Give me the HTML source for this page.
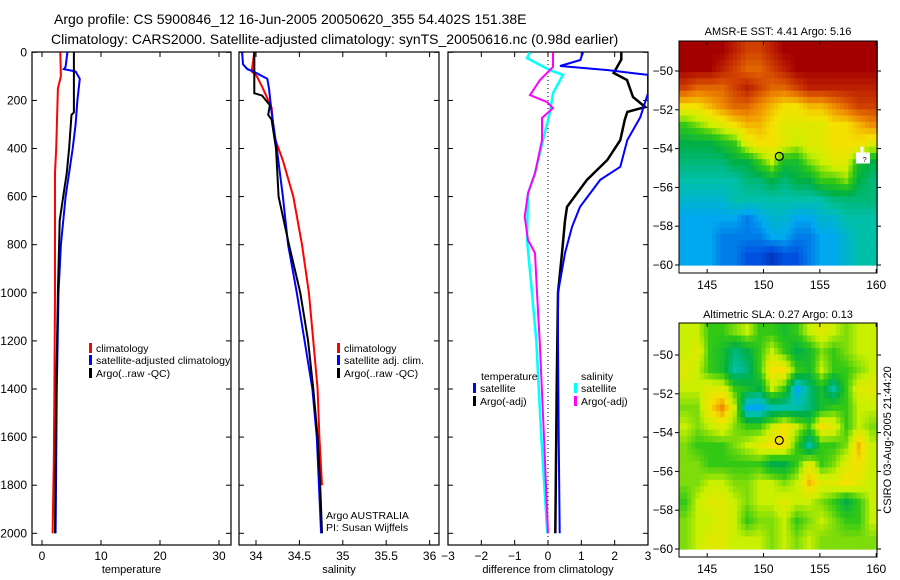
<!DOCTYPE html>
<html><head><meta charset="utf-8"><style>
html,body{margin:0;padding:0;background:#fff;}
svg{display:block;font-family:"Liberation Sans",sans-serif;}
text{fill:#000;}
</style></head><body>
<svg id="fig" width="900" height="580" viewBox="0 0 900 580" xmlns="http://www.w3.org/2000/svg">
<text x="54" y="24" font-size="14">Argo profile: CS 5900846_12 16-Jun-2005 20050620_355 54.402S 151.38E</text>
<text x="51" y="44" font-size="14">Climatology: CARS2000. Satellite-adjusted climatology: synTS_20050616.nc (0.98d earlier)</text>
<g id="layer"></g>
</svg>
<script>
// ---------- profile data ----------
const tempClimDepth=[0,100,150,400,500,1000,1400,1700,2000];
const tempClimVal=[3.1,3.2,2.7,2.4,2.2,2.2,2.1,2.0,1.8];
const tempSatDepth=[0,60,70,80,110,200,300,400,600,800,1000,1400,2000];
const tempSatVal=[4.3,4.0,3.7,5.7,6.4,6.0,5.7,5.2,4.0,3.2,2.8,2.5,2.3];
const tempArgoDepth=[0,180,250,260,400,500,600,700,1000,1400,2000];
const tempArgoVal=[5.4,5.4,5.4,5.0,4.6,4.2,3.6,3.0,2.7,2.4,2.2];

const salClimDepth=[0,80,100,150,230,350,450,600,800,1000,1200,1400,1600,1800];
const salClimVal=[33.98,33.95,34.01,34.08,34.18,34.21,34.31,34.43,34.53,34.61,34.66,34.71,34.73,34.76];
const salSatDepth=[0,50,70,80,110,150,250,400,600,800,1000,1200,1400,1600,2000];
const salSatVal=[33.84,33.85,33.9,33.97,34.13,34.15,34.18,34.24,34.31,34.37,34.47,34.56,34.65,34.70,34.75];
const salArgoDepth=[0,170,180,220,260,280,400,600,800,1000,1200,1400,1600,1800,2000];
const salArgoVal=[33.98,33.98,34.07,34.16,34.14,34.18,34.23,34.26,34.38,34.51,34.60,34.66,34.71,34.74,34.76];

const dTSatDepth=[0,32,57,74,94,170,270,365,476,530,643,726,835,1000,1200,1600,2000];
const dTSatVal=[1.05,0.97,0.36,1.8,3.0,3.0,2.77,2.38,2.17,1.57,0.96,0.72,0.51,0.3,0.3,0.32,0.35];
const dTArgoDepth=[0,30,86,115,186,228,248,282,365,448,530,643,700,835,1000,1400,2000];
const dTArgoVal=[2.2,2.2,1.97,2.37,2.55,2.92,2.38,2.3,2.17,1.78,1.17,0.57,0.51,0.42,0.3,0.26,0.22];
const dSSatDepth=[0,24,74,94,170,248,365,503,586,780,1000,1200,1600,2000];
const dSSatVal=[-0.54,-0.63,0.06,0.45,0.15,0.06,-0.15,-0.39,-0.6,-0.63,-0.48,-0.35,-0.2,-0.02];
const dSArgoDepth=[0,61,115,178,207,232,273,365,503,586,684,780,835,1000,1200,1600,2000];
const dSArgoVal=[0.15,0.15,-0.24,-0.54,-0.03,0.15,-0.18,-0.18,-0.39,-0.6,-0.7,-0.6,-0.39,-0.33,-0.25,-0.12,0.0];

const depthTicks=[0,200,400,600,800,1000,1200,1400,1600,1800,2000];
const tempTicks=[0,10,20,30];
const salTicks=[34,34.5,35,35.5,36];
const salTickLabels=["34","34.5","35","35.5","36"];
const diffTicks=[-3,-2,-1,0,1,2,3];

// ---------- map data (rows top->bottom, lat -49..-60; cols lon 143..160) ----------
const sstGrid=[
[10,10,10,10,9.5,9,9,9.5,10,10,10,10,10,10,10,10],
[10,10,10,9.5,9,8.5,8.5,9,9.5,10,10,10,10,10,10,10],
[9,8.5,8.5,8.5,9,9.5,9,8.5,8.5,9,9.5,9.5,9.5,9.5,9.5,9.5],
[7,7,7.5,8,8.5,8.5,8,7.5,7,7,7.5,7.5,8,8.5,9,9],
[5,5.5,6,6.5,7,7.5,7.5,7,6.5,6.5,6.5,6.5,7,7,7.5,8],
[4,4,4,4.5,5,6.5,7,7,6.5,6,6.5,6.5,7,7,7,6.5],
[3.5,3.5,3.5,3.5,4,4,5,6,4.5,4.5,5.5,6,6.5,6.5,4.5,4],
[3,3,3,3,3,3.5,3.5,4,3.5,4,4,5,5,5.5,4,3.5],
[2.5,2.5,2.5,2.5,3,3,3,3,3,3,3,3,3.5,3.5,3.5,3.5],
[2,2,2,2,2,1.5,2,2.5,2.5,2,2,2.5,2.5,3,3,3],
[2,2,2,1.5,1.5,1.5,1.5,2,2,1.5,1.5,2,2,2.5,3,3],
[2,2,2,1.5,1.5,1,1,0.5,1,1,1.5,2,2,2.5,3,3]];
const slaGrid=[
[6,6,5,5,5.5,6,5,5,4.5,5,6,6.5,6,5.5,6,6],
[6,6.5,5,4.5,3.5,4,5,6,5,4,4.5,5.5,5,5.5,6,6],
[6.5,6,5,4.5,3,3.5,5,7,7,5,4.5,6,5,5,5.5,6],
[6,6,6.5,6.5,5,4.5,4,6,5,2,3.5,4.5,3,5,6.5,6.5],
[5.5,5.5,7,8,6,2,2,3,3,3,3.5,4.5,5,5,6,6],
[6,5.5,6,6.5,5.5,5,5,6,7,6,5,7,6.5,5,6,5.5],
[5.5,5,5,5,5.5,6,6.5,7,7,5,3,5,5,5.5,7.5,6],
[5.5,5.5,5,5,5,5,5,4,4,5,6.5,5,5.5,6.5,7,6],
[5.5,5.5,6,6,5.5,5.5,6,6,5.5,6,7.5,6.5,6.5,7,6.5,6],
[5,6,6.5,6.5,6,5.5,6,6,6.5,6,6,5.5,5,4,5,6],
[5.5,6,6,6.5,6,5,5.5,5.5,6,5,5.5,6,5.5,5,5,6],
[5.5,6,6.5,6.5,6,6,6,5.5,6,5.5,6,5.5,5.5,5.5,5.5,5.5]];
const lonTicks=[145,150,155,160];
const latTicks=[-50,-52,-54,-56,-58,-60];
const floatLon=151.4, floatLat=-54.4;

// ---------- helpers ----------
const NS="http://www.w3.org/2000/svg";
const layer=document.getElementById('layer');
function mk(tag,attrs,parent){const e=document.createElementNS(NS,tag);for(const k in attrs)e.setAttribute(k,attrs[k]);(parent||layer).appendChild(e);return e;}
function txt(x,y,s,size,anchor,parent){const t=mk('text',{x:x,y:y,'font-size':size||11,'text-anchor':anchor||'start'},parent);t.textContent=s;return t;}

const Y0=52.3, YK=0.2405;
function yD(d){return Y0+d*YK;}
const P={top:52,bottom:545};
function xT(v){return 42+5.9*v;}
function xS(v){return 256+86.8*(v-34);}
function xDf(v){return 548+33.33*v;}

function drawPanel(name,left,right,xs,ticks,labels,showY,xlabel){
  const g=mk('g',{});
  
  
  const r=mk('rect',{x:left,y:P.top,width:right-left,height:P.bottom-P.top,fill:'none',stroke:'#000','stroke-width':1.2},g);
  
  
  ticks.forEach((t,i)=>{const x=xs(t);
    mk('line',{x1:x,y1:P.bottom,x2:x,y2:P.bottom-5,stroke:'#000'},g);
    mk('line',{x1:x,y1:P.top,x2:x,y2:P.top+5,stroke:'#000'},g);
    const tl=txt(x,560,labels[i],12,'middle',g);
    
    
  });
  depthTicks.forEach(d=>{const y=yD(d);
    mk('line',{x1:left,y1:y,x2:left+5,y2:y,stroke:'#000'},g);
    mk('line',{x1:right,y1:y,x2:right-5,y2:y,stroke:'#000'},g);
    if(showY){const tl=txt(left-5,y+4,String(d),12,'end',g);
      
      }
  });
  const xl=txt((left+right)/2,573,xlabel,11,'middle',g);
  
  
  return g;
}
function line(g,depths,vals,xs,color,name,w){
  const pts=depths.map((d,i)=>xs(vals[i]).toFixed(1)+','+yD(d).toFixed(1)).join(' ');
  const p=mk('polyline',{points:pts,fill:'none',stroke:color,'stroke-width':w||2},g);
  
  
}
function legend(g,x,y,color,label,name){
  if(color){const b=mk('rect',{x:x,y:y-9,width:3,height:10,fill:color},g);
    
    }
  const t=txt(x+7,y,label,10.5,'start',g);
  
  
}

// panel 1
const g1=drawPanel('temperature-panel',32,231,xT,tempTicks,tempTicks.map(String),true,'temperature');
line(g1,tempClimDepth,tempClimVal,xT,'#ff0000','temp-climatology-line');
line(g1,tempSatDepth,tempSatVal,xT,'#0000ff','temp-satellite-line');
line(g1,tempArgoDepth,tempArgoVal,xT,'#000','temp-argo-line');
legend(g1,89,352,'#ff0000','climatology','legend-climatology');
legend(g1,89,364,'#0000ff','satellite-adjusted climatology','legend-satellite-adjusted');
legend(g1,89,377,'#000','Argo(..raw -QC)','legend-argo');

// panel 2
const g2=drawPanel('salinity-panel',239,439,xS,salTicks,salTickLabels,false,'salinity');
line(g2,salClimDepth,salClimVal,xS,'#ff0000','sal-climatology-line');
line(g2,salSatDepth,salSatVal,xS,'#0000ff','sal-satellite-line');
line(g2,salArgoDepth,salArgoVal,xS,'#000','sal-argo-line');
legend(g2,337,352,'#ff0000','climatology','legend-sal-climatology');
legend(g2,337,364,'#0000ff','satellite adj. clim.','legend-sal-satellite');
legend(g2,337,377,'#000','Argo(..raw -QC)','legend-sal-argo');
const a1=txt(326,519,'Argo AUSTRALIA',10.5,'start',g2);


const a2=txt(326,531,'PI: Susan Wijffels',10.5,'start',g2);



// panel 3
const g3=drawPanel('difference-panel',448,648,xDf,diffTicks,diffTicks.map(v=>v<0?'\u2212'+(-v):String(v)),false,'difference from climatology');
const z=mk('line',{x1:xDf(0),y1:P.top,x2:xDf(0),y2:P.bottom,stroke:'#000','stroke-dasharray':'1,3'},g3);


const clip=mk('clipPath',{id:'c3'},g3);mk('rect',{x:448,y:52,width:200,height:493},clip);
const g3c=mk('g',{'clip-path':'url(#c3)'},g3);
line(g3c,dTArgoDepth,dTArgoVal,xDf,'#000','temp-diff-argo-line',2.5);
line(g3c,dTSatDepth,dTSatVal,xDf,'#0000ff','temp-diff-satellite-line',2);
line(g3c,dSSatDepth,dSSatVal,xDf,'#00ffff','sal-diff-satellite-line',2.5);
line(g3c,dSArgoDepth,dSArgoVal,xDf,'#ff00ff','sal-diff-argo-line',2);
legend(g3,474,380,null,'temperature','legend-temperature-heading');
legend(g3,473,392,'#0000ff','satellite','legend-temp-satellite');
legend(g3,473,405,'#000','Argo(-adj)','legend-temp-argo');
legend(g3,574,380,null,'salinity','legend-salinity-heading');
legend(g3,574,392,'#00ffff','satellite','legend-sal-satellite-diff');
legend(g3,574,405,'#ff00ff','Argo(-adj)','legend-sal-argo-diff');

// ---------- maps ----------
const stops=[[0,[0,32,160]],[1,[0,80,224]],[2,[0,168,240]],[3,[0,192,170]],[4,[0,176,70]],[5,[50,200,20]],[6,[200,240,0]],[7,[245,225,0]],[8,[240,140,0]],[9,[208,64,0]],[10,[165,0,0]]];
function cmap(v){v=Math.max(0,Math.min(10,v));for(let i=0;i<stops.length-1;i++){const a=stops[i],b=stops[i+1];if(v<=b[0]){const t=(v-a[0])/(b[0]-a[0]);const c=a[1].map((q,k)=>Math.round(q+(b[1][k]-q)*t));return 'rgb('+c.join(',')+')';}}return 'rgb(165,0,0)';}
function sample(grid,fr,fc){
  const R=grid.length,C=grid[0].length;
  fr=Math.max(0,Math.min(R-1,fr));fc=Math.max(0,Math.min(C-1,fc));
  const r0=Math.floor(fr),c0=Math.floor(fc),r1=Math.min(R-1,r0+1),c1=Math.min(C-1,c0+1);
  const tr=fr-r0,tc=fc-c0;
  return (grid[r0][c0]*(1-tc)+grid[r0][c1]*tc)*(1-tr)+(grid[r1][c0]*(1-tc)+grid[r1][c1]*tc)*tr;
}

function drawMap(name,grid,box,title){
  const g=mk('g',{});
  
  
  const lonX=l=>box.x0+(l-142.5)*box.kx;
  const latY=la=>box.y50+(-50-la)*box.ky;
  const t=txt((box.x0+box.x1)/2,box.titleY,title,11,'middle',g);
  
  
  const rows=grid.length,cols=grid[0].length,S=3;
  const lat0=box.latTop, lat1=-60, lon0=142.5, lon1=160.1;
  const NR=rows*S,NC=cols*S;
  for(let r=0;r<NR;r++)for(let c=0;c<NC;c++){
    const la=lat0+(lat1-lat0)*r/NR, la2=lat0+(lat1-lat0)*(r+1)/NR;
    const lo=lon0+(lon1-lon0)*c/NC, lo2=lon0+(lon1-lon0)*(c+1)/NC;
    const v=sample(grid,(r+0.5)/S-0.5,(c+0.5)/S-0.5);
    const cell=mk('rect',{x:lonX(lo).toFixed(1),y:latY(la).toFixed(1),width:(lonX(lo2)-lonX(lo)+0.6).toFixed(1),height:(latY(la2)-latY(la)+0.6).toFixed(1),fill:cmap(v)},g);
    
    
  }
  const f=mk('rect',{x:box.x0,y:box.y0,width:box.x1-box.x0,height:box.y1-box.y0,fill:'none',stroke:'#000'},g);
  
  
  lonTicks.forEach(l=>{const x=lonX(l);mk('line',{x1:x,y1:box.y1,x2:x,y2:box.y1-4,stroke:'#000'},g);mk('line',{x1:x,y1:box.y0,x2:x,y2:box.y0+4,stroke:'#000'},g);
    const tl=txt(x,box.y1+16,String(l),12,'middle',g);
    
    });
  latTicks.forEach(la=>{const y=latY(la);mk('line',{x1:box.x0,y1:y,x2:box.x0-4,y2:y,stroke:'#000'},g);mk('line',{x1:box.x1,y1:y,x2:box.x1+4,y2:y,stroke:'#000'},g);
    const tl=txt(box.x0-6,y+4,'\u2212'+(-la),12,'end',g);
    
    });
  const m=mk('circle',{cx:lonX(floatLon),cy:latY(floatLat),r:4,fill:'none',stroke:'#000','stroke-width':1.2},g);
  
  
  return {g,lonX,latY};
}
const m1=drawMap('sst-map',sstGrid,{x0:679,x1:877,y0:41,y1:273,y50:71,kx:11.27,ky:19.4,latTop:-48.45,titleY:35},'AMSR-E SST: 4.41 Argo: 5.16');
mk('rect',{x:m1.lonX(158.2),y:m1.latY(-54.2),width:14,height:11,fill:'#fff'},m1.g);
mk('rect',{x:m1.lonX(158.6),y:m1.latY(-53.9),width:3,height:6,fill:'#fff'},m1.g);
txt(m1.lonX(158.8),m1.latY(-54.7),'?',7,'start',m1.g);
const m2=drawMap('sla-map',slaGrid,{x0:679,x1:877,y0:323,y1:557,y50:355,kx:11.27,ky:19.4,latTop:-48.35,titleY:318},'Altimetric SLA: 0.27 Argo: 0.13');
const sLab=txt(0,0,'CSIRO 03-Aug-2005 21:44:20',11,'middle');
sLab.setAttribute('transform','translate(891,440) rotate(-90)');


</script>
</body></html>
